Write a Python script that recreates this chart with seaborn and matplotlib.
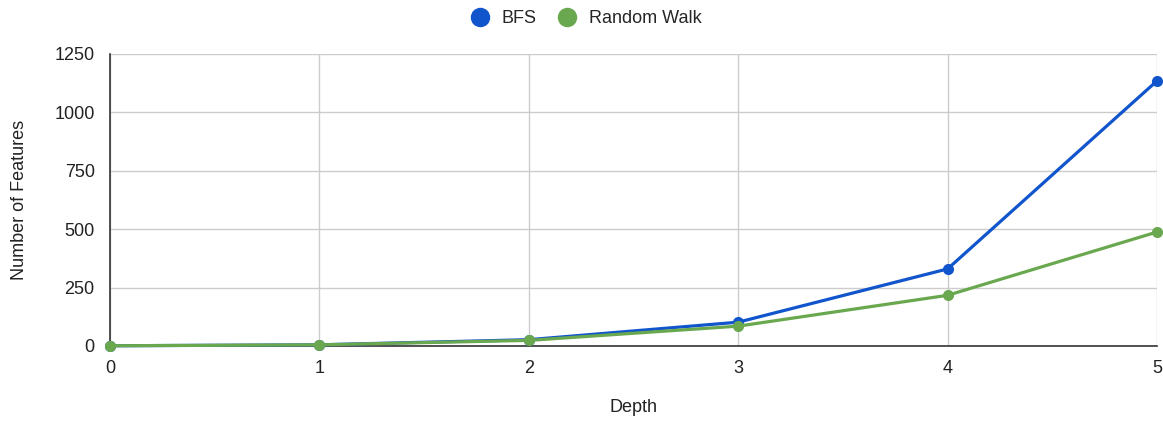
import matplotlib
matplotlib.use("Agg")
import matplotlib.pyplot as plt
import seaborn as sns
import pandas as pd

depth = [0, 1, 2, 3, 4, 5]
bfs = [1, 5, 27, 102, 330, 1135]
random_walk = [1, 5, 24, 85, 217, 488]
series_names = ["BFS", "Random Walk"]
y_ticks = [0, 250, 500, 750, 1000, 1250]

df = pd.DataFrame({
    "Depth": depth * 2,
    "Number of Features": bfs + random_walk,
    "Method": [series_names[0]] * len(depth) + [series_names[1]] * len(depth),
})

sns.set_theme(style="white")
plt.rcParams["font.family"] = ["Liberation Sans", "DejaVu Sans"]

palette = {"BFS": "#1155cc", "Random Walk": "#6aa84f"}

fig = plt.figure(figsize=(11.63, 4.21), dpi=100)
ax = fig.add_axes([110 / 1163, 1 - 346 / 421, (1157 - 110) / 1163, (346 - 54) / 421])

sns.lineplot(data=df, x="Depth", y="Number of Features", hue="Method",
             palette=palette, marker="o", markersize=8, markeredgewidth=0,
             linewidth=2.3, ax=ax, legend=False, clip_on=False, zorder=3)

ax.set_xlim(0, 5)
ax.set_ylim(0, 1250)
ax.set_xticks(depth)
ax.set_yticks(y_ticks)
ax.grid(True, color="#cccccc", linewidth=1)
ax.set_axisbelow(True)
for side in ["top", "right"]:
    ax.spines[side].set_visible(False)
for side in ["left", "bottom"]:
    ax.spines[side].set_color("#333333")
    ax.spines[side].set_linewidth(1.2)
    ax.spines[side].set_zorder(2)
ax.tick_params(axis="both", length=0, labelsize=13, colors="#222222")
ax.tick_params(axis="x", pad=10)
ax.tick_params(axis="y", pad=11)
ax.set_xlabel("Depth", fontsize=13, color="#222222", labelpad=16)
ax.set_ylabel("Number of Features", fontsize=13, color="#222222", labelpad=19)

handles = [plt.Line2D([], [], linestyle="none", marker="o", markersize=13,
                      color=palette[n]) for n in series_names]
fig.legend(handles, series_names, loc="upper center", bbox_to_anchor=(0.503, 1.015),
           ncol=2, frameon=False, fontsize=13, handletextpad=0.6,
           columnspacing=1.1, handlelength=1.2)

fig.savefig("out.png", dpi=100)
